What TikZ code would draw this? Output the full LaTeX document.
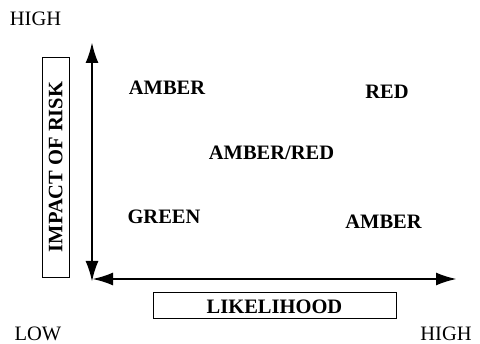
\documentclass[tikz,border=0pt]{standalone}
\usepackage{fontspec}
\setmainfont{Liberation Serif}
\usepackage{tikz}
\usetikzlibrary{positioning}
\usetikzlibrary{arrows.meta}
\tikzstyle{novertex} = [draw=none, fill=none, text centered, inner sep=0pt, anchor=base, font=\fontsize{20.5}{24}\selectfont]
\tikzstyle{zone} = [novertex, font=\fontsize{20.5}{24}\selectfont\bfseries]
\tikzstyle{axislabel} = [rectangle, draw, thin, text centered, inner sep=0pt, font=\fontsize{20.5}{24}\selectfont\bfseries]
\tikzstyle{axis} = [draw, line width=2.6pt, {Latex[length=21pt,width=13pt]}-{Latex[length=21pt,width=13pt]}]

\begin{document}
\begin{tikzpicture}[x=1pt, y=-1pt]
	\useasboundingbox (0,0) rectangle (480,344);

	% axis ends
	\coordinate (Ytop) at (92,42);
	\coordinate (Ybot) at (92,282);
	\coordinate (Xbeg) at (92,279);
	\coordinate (Xend) at (457,279);

	% scale labels
	\node [novertex] (HY) at (35.5,26)  {HIGH};
	\node [novertex] (LO) at (38,341)   {LOW};
	\node [novertex] (HX) at (446,341)  {HIGH};

	% axis titles
	\node [axislabel, minimum width=220pt, minimum height=26.5pt, rotate=90] (IMP) at (55.8,167) {IMPACT OF RISK};
	\node [axislabel, minimum width=243pt, minimum height=26pt] (LIK) at (274.5,305) {};
	\node [novertex, font=\fontsize{20.5}{24}\selectfont\bfseries] (LIKT) at (274.5,313.3) {LIKELIHOOD};

	% place zones
	\node [zone] (Z1) at (167,95)    {AMBER};
	\node [zone] (Z2) at (387,99)    {RED};
	\node [zone] (Z3) at (271.5,160) {AMBER/RED};
	\node [zone] (Z4) at (164,224)   {GREEN};
	\node [zone] (Z5) at (383.5,229) {AMBER};

	% draw axes
	\path [axis] (Ytop) -- (Ybot);
	\path [axis] (Xbeg) -- (Xend);
\end{tikzpicture}
\end{document}
